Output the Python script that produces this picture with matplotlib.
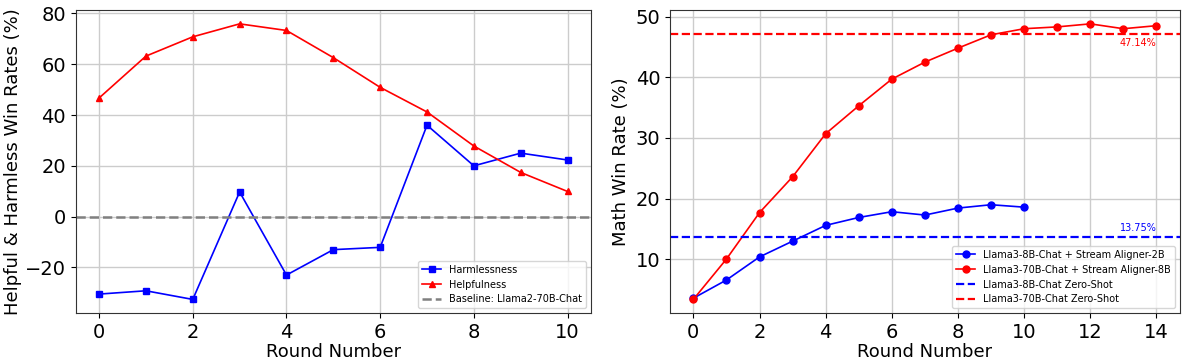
import matplotlib.pyplot as plt
import numpy as np

# panel izquierdo: win rates por ronda
rounds_left = list(range(11))
harmlessness = [-30.5, -29.2, -32.6, 9.7, -23.0, -13.0, -12.1, 36.0, 20.0, 25.0, 22.3]
helpfulness = [46.7, 63.2, 70.8, 75.9, 73.3, 62.6, 50.9, 41.2, 27.8, 17.4, 9.9]
baseline_left = 0

# panel derecho: math win rate
rounds_8b = list(range(11))
math_8b = [3.6, 6.6, 10.4, 13.0, 15.6, 16.9, 17.85, 17.3, 18.45, 19.0, 18.6]
rounds_70b = list(range(15))
math_70b = [3.4, 10.05, 17.7, 23.6, 30.7, 35.3, 39.7, 42.5, 44.8, 47.0, 48.0, 48.3, 48.8, 48.0, 48.5]
zero_shot_8b = 13.75
zero_shot_70b = 47.14

fig = plt.figure(figsize=(11.82, 3.6), dpi=100)
ax = [fig.add_axes([0.064, 0.13, 0.436, 0.842]),
      fig.add_axes([0.567, 0.13, 0.431, 0.842])]

ax[0].plot(rounds_left, harmlessness, color='blue', marker='s', markersize=5, linewidth=1.2, label='Harmlessness')
ax[0].plot(rounds_left, helpfulness, color='red', marker='^', markersize=5, linewidth=1.2, label='Helpfulness')
ax[0].axhline(baseline_left, color='gray', linestyle='--', linewidth=1.8, label='Baseline: Llama2-70B-Chat')
ax[0].set_xlabel('Round Number', fontsize=13, labelpad=1)
ax[0].set_ylabel('Helpful & Harmless Win Rates (%)', fontsize=13, labelpad=2)
ax[0].set_xticks([0, 2, 4, 6, 8, 10])
ax[0].grid(True, color='#cccccc', linewidth=1)
ax[0].legend(loc='lower right', fontsize=7)

ax[1].plot(rounds_8b, math_8b, color='blue', marker='o', markersize=5, linewidth=1.2, label='Llama3-8B-Chat + Stream Aligner-2B')
ax[1].plot(rounds_70b, math_70b, color='red', marker='o', markersize=5, linewidth=1.2, label='Llama3-70B-Chat + Stream Aligner-8B')
ax[1].axhline(zero_shot_8b, color='blue', linestyle='--', linewidth=1.6, label='Llama3-8B-Chat Zero-Shot')
ax[1].axhline(zero_shot_70b, color='red', linestyle='--', linewidth=1.6, label='Llama3-70B-Chat Zero-Shot')
ax[1].text(14, zero_shot_70b - 0.6, f'{zero_shot_70b:.2f}%', color='red', fontsize=7, ha='right', va='top')
ax[1].text(14, zero_shot_8b + 0.6, f'{zero_shot_8b:.2f}%', color='blue', fontsize=7, ha='right', va='bottom')
ax[1].set_xlabel('Round Number', fontsize=13, labelpad=1)
ax[1].set_ylabel('Math Win Rate (%)', fontsize=13)
ax[1].set_xticks([0, 2, 4, 6, 8, 10, 12, 14])
ax[1].grid(True, color='#cccccc', linewidth=1)
ax[1].legend(loc='lower right', fontsize=7)

for a in ax:
    a.tick_params(labelsize=14)
    for s in a.spines.values():
        s.set_color('#333333')

plt.savefig('out.png')
